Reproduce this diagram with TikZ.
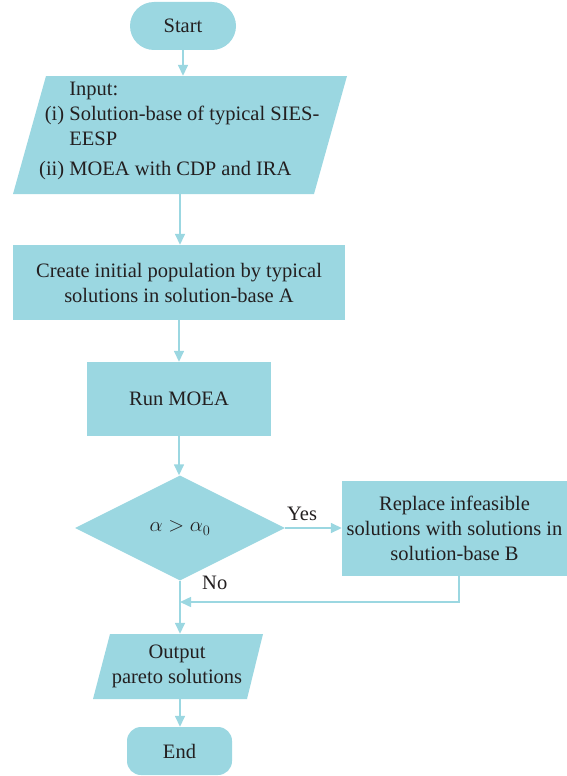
\documentclass[tikz,border=0pt]{standalone}
\usepackage{fontspec}
\setmainfont{Liberation Serif}
\usetikzlibrary{shapes.geometric,arrows.meta}
\definecolor{boxc}{HTML}{9BD7E1}
\definecolor{txt}{HTML}{231F20}
\begin{document}
\begin{tikzpicture}[x=1pt,y=-1pt,
  every node/.style={text=txt, font=\fontsize{20.5}{25}\selectfont, inner sep=0pt},
  proc/.style={rectangle, fill=boxc, draw=none, align=center},
  ghost/.style={rectangle, draw=none, fill=none},
  flow/.style={draw=boxc, line width=1.5pt, -{Triangle[length=11pt,width=10pt]}},
  plain/.style={draw=boxc, line width=1.5pt}]
\useasboundingbox (0,0) rectangle (567,776);

% Start
\node[proc, rounded corners=24pt, minimum width=106pt, minimum height=48pt] (start) at (183,26) {Start};

% Input parallelogram
\node[ghost, minimum width=334pt, minimum height=118pt] (in) at (180,135) {};
\fill[boxc] (46,76) -- (347,76) -- (314,194) -- (13,194) -- cycle;
\node[anchor=north west, align=left] (intext) at (39,77.5)
  {\begin{tabular}{@{}r@{\ }l@{}}
   & Input:\\
   (i) & Solution-base of typical SIES-\\
   & EESP\\[5pt]
   (ii) & MOEA with CDP and IRA
   \end{tabular}};

% Create
\node[proc, minimum width=332pt, minimum height=75pt] (create) at (179,282.5)
  {Create initial population by typical\\solutions in solution-base A};

% Run
\node[proc, minimum width=184pt, minimum height=74pt] (run) at (179,399) {Run MOEA};

% Decision
\node[diamond, fill=boxc, minimum width=210pt, minimum height=105pt] (dec) at (180,528) {$\alpha > \alpha_0$};

% Replace
\node[proc, minimum width=225pt, minimum height=95pt] (rep) at (454.5,528.5)
  {Replace infeasible\\solutions with solutions in\\solution-base B};

% Output parallelogram
\node[ghost, minimum width=170pt, minimum height=65pt] (out) at (180,666.5) {};
\fill[boxc] (110,634) -- (263,634) -- (247,699) -- (93,699) -- cycle;
\node[align=center] (outtext) at (177,666.5) {Output\\pareto solutions};

% End
\node[proc, rounded corners=14pt, minimum width=105pt, minimum height=48pt] (end) at (179.5,751) {End};

% Labels
\node[anchor=base west] (yes) at (287,520) {Yes};
\node[anchor=base west] (no) at (202,589) {No};

% Connectors
\draw[flow] (start.south) -- (start.south |- in.north);
\draw[flow] (in.south) -- (in.south |- create.north);
\draw[flow] (create.south) -- (run.north);
\draw[flow] (run.south) -- (run.south |- dec.north);
\draw[flow] (dec.east) -- (dec.east -| rep.west);
\coordinate (fb) at (459,602);
\draw[flow] (rep.south -| fb) -- (fb) -- (fb -| dec.south);
\draw[flow] (dec.south) -- (dec.south |- out.north);
\draw[flow] (out.south) -- (out.south |- end.north);
\end{tikzpicture}
\end{document}
